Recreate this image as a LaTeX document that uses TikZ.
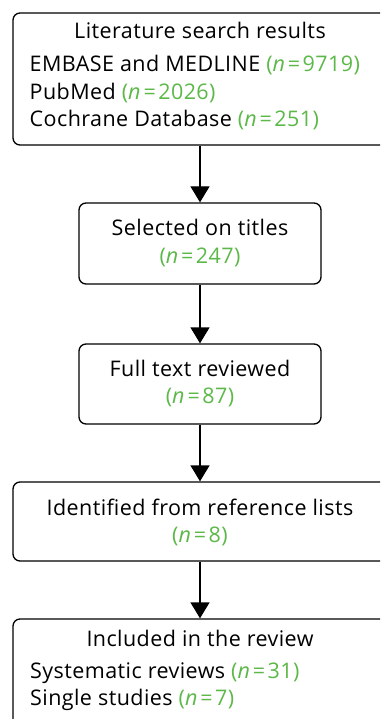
\documentclass[tikz,border=0pt]{standalone}
\usepackage{fontspec}
\setmainfont{Open Sans}[LetterSpace=2]
\usetikzlibrary{arrows.meta}
\definecolor{ngreen}{RGB}{92,184,72}
\newcommand{\nval}[1]{\textcolor{ngreen}{(\textit{n}\kern2.5pt=\kern2.5pt#1)}}
\begin{document}
\begin{tikzpicture}[x=1pt,y=-1pt,
  box/.style={draw=black, line width=1.3pt, rounded corners=7pt, inner sep=0pt},
  txt/.style={anchor=base, inner sep=0pt, font=\fontsize{21.5}{26}\selectfont},
  ltxt/.style={anchor=base west, inner sep=0pt, font=\fontsize{21.5}{26}\selectfont},
  arr/.style={line width=1.3pt, -{Triangle[width=19pt,length=16pt]}}]
\useasboundingbox (0,0) rectangle (380,719);
\clip (0,0) rectangle (380,719);
% boxes
\node[box, minimum width=374pt, minimum height=132pt] (b1) at (200,79) {};
\node[box, minimum width=242pt, minimum height=81pt] (b2) at (200,243.5) {};
\node[box, minimum width=242pt, minimum height=80pt] (b3) at (200,384) {};
\node[box, minimum width=374pt, minimum height=79pt] (b4) at (200,521.5) {};
\node[box, minimum width=374pt, minimum height=160pt] (b5) at (200,699) {};
% texts
\node[txt] (t1) at (200,39) {Literature search results};
\node[ltxt] (t1a) at (29.5,72) {EMBASE and MEDLINE \nval{9719}};
\node[ltxt] (t1b) at (29.5,99.5) {PubMed \nval{2026}};
\node[ltxt] (t1c) at (29.5,127) {Cochrane Database \nval{251}};
\node[txt] (t2) at (200,236) {Selected on titles};
\node[txt] (t2a) at (200,263) {\nval{247}};
\node[txt] (t3) at (200,376) {Full text reviewed};
\node[txt] (t3a) at (200,403) {\nval{87}};
\node[txt] (t4) at (200,515) {Identified from reference lists};
\node[txt] (t4a) at (200,542) {\nval{8}};
\node[txt] (t5) at (200,646) {Included in the review};
\node[ltxt] (t5a) at (30,678) {Systematic reviews \nval{31}};
\node[ltxt] (t5b) at (30,705) {Single studies \nval{7}};
% arrows
\draw[arr] (b1.south) -- (b2.north);
\draw[arr] (b2.south) -- (b3.north);
\draw[arr] (b3.south) -- (b4.north);
\draw[arr] (b4.south) -- (b5.north);
\end{tikzpicture}
\end{document}
